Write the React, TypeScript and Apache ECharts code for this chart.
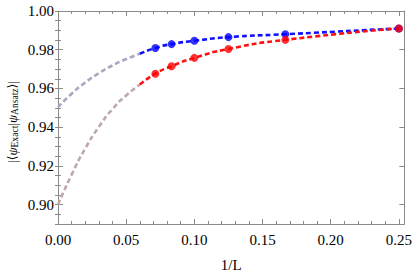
import React, { useEffect, useRef } from "react";
import * as echarts from "echarts";

const invL = [0.0714, 0.0833, 0.1, 0.125, 0.1667, 0.25];
const blueVals = [0.9809, 0.9829, 0.9846, 0.9865, 0.988, 0.991];
const redVals = [0.9676, 0.9715, 0.9758, 0.9804, 0.9851, 0.991];

const blueFitX = [0.06, 0.0714, 0.0833, 0.1, 0.125, 0.1667, 0.25];
const blueFitY = [0.9779, 0.9809, 0.9829, 0.9846, 0.9865, 0.988, 0.991];
const redFitX = [0.06, 0.0714, 0.0833, 0.1, 0.125, 0.1667, 0.25];
const redFitY = [0.962, 0.9676, 0.9715, 0.9758, 0.9804, 0.9851, 0.991];

const extX = [0, 0.01, 0.02, 0.03, 0.04, 0.05, 0.06];
const blueExtY = [0.9503, 0.9573, 0.9631, 0.9679, 0.9719, 0.9752, 0.9779];
const redExtY = [0.9, 0.9155, 0.929, 0.9402, 0.9494, 0.9564, 0.962];

const X_MIN = 0;
const X_MAX = 0.254;
const Y_MIN = 0.89;
const Y_MAX = 1.0;

const zip = (xs: number[], ys: number[]) => xs.map((x, i) => [x, ys[i]]);

const FONT = "Liberation Serif";
const BRACKET_FONT = "DejaVu Sans";
const labelParts: [string, string][] = [
  ["|", "m"],
  ["⟨", "b"],
  ["ψ", "i"],
  ["Exact", "s"],
  ["|", "m"],
  ["ψ", "i"],
  ["Ansatz", "s"],
  ["⟩", "b"],
  ["|", "m"],
];

export default function App() {
  const ref = useRef<HTMLDivElement>(null);
  useEffect(() => {
    if (!ref.current) return;
    const chart = echarts.init(ref.current, undefined, { renderer: "svg" });
    const frame = "#8a8a8a";
    const font = FONT;
    const k = 0.87;
    const baseX = {
      type: "value",
      min: X_MIN,
      max: X_MAX,
      splitNumber: 5,
      axisLine: { show: true, onZero: false, lineStyle: { color: frame, width: 1 } },
      axisTick: { show: true, inside: true, length: 5, lineStyle: { color: frame } },
      minorTick: { show: true, splitNumber: 5, length: 3, lineStyle: { color: frame } },
      splitLine: { show: false },
    };
    const majorY = {
      type: "value",
      min: Y_MIN,
      max: Y_MAX,
      splitNumber: 5,
      axisLine: { show: true, onZero: false, lineStyle: { color: frame, width: 1 } },
      axisTick: { show: true, inside: true, length: 5, lineStyle: { color: frame } },
      splitLine: { show: false },
    };
    const minorY = {
      type: "value",
      min: Y_MIN,
      max: Y_MAX,
      interval: 0.005,
      axisLine: { show: false },
      axisTick: { show: true, inside: true, length: 3, lineStyle: { color: frame } },
      axisLabel: { show: false },
      splitLine: { show: false },
    };
    const fmt2 = (step: number) => (v: number) => {
      const q = v / step;
      if (Math.abs(q - Math.round(q)) > 1e-6) return "";
      return v.toFixed(2);
    };
    const dashed = (color: string) => ({
      type: "line",
      smooth: 0.6,
      showSymbol: false,
      symbol: "none",
      lineStyle: { color, width: 2.6, type: [5, 3] },
      z: 2,
    });
    const lh = 18 * k;
    chart.setOption({
      animation: false,
      backgroundColor: "#ffffff",
      textStyle: { fontFamily: font },
      grid: { left: 58, right: 8, top: 11, bottom: 50, containLabel: false },
      xAxis: [
        {
          ...baseX,
          position: "bottom",
          name: "1/L",
          nameLocation: "middle",
          nameGap: 33,
          nameTextStyle: { fontFamily: font, fontSize: 15, color: "#000" },
          axisLabel: {
            show: true,
            margin: 8,
            fontFamily: font,
            fontSize: 15,
            color: "#000",
            formatter: fmt2(0.05),
          },
        },
        { ...baseX, position: "top", axisLabel: { show: false } },
      ],
      yAxis: [
        {
          ...majorY,
          position: "left",
          axisLabel: {
            show: true,
            margin: 4,
            fontFamily: font,
            fontSize: 15,
            color: "#000",
            formatter: fmt2(0.02),
          },
        },
        { ...majorY, position: "right", axisLabel: { show: false } },
        { ...minorY, position: "left" },
        { ...minorY, position: "right" },
      ],
      graphic: [
        {
          type: "text",
          x: 12,
          y: 122,
          rotation: Math.PI / 2,
          style: {
            text: labelParts.map(([t, s]) => `{${s}|${t}}`).join(""),
            align: "center",
            verticalAlign: "middle",
            rich: {
              m: { fontFamily: font, fontSize: 15 * k, lineHeight: lh, verticalAlign: "middle", fill: "#000" },
              b: { fontFamily: BRACKET_FONT, fontSize: 14 * k, lineHeight: lh, verticalAlign: "middle", fill: "#000" },
              i: { fontFamily: font, fontSize: 15 * k, fontStyle: "italic", lineHeight: lh, verticalAlign: "middle", fill: "#000" },
              s: { fontFamily: font, fontSize: 11 * k, lineHeight: lh, verticalAlign: "bottom", fill: "#000" },
            },
          },
        },
      ],
      series: [
        { ...dashed("#a8a8bf"), data: zip(extX, blueExtY) },
        { ...dashed("#bea8a8"), data: zip(extX, redExtY) },
        { ...dashed("#1010ff"), data: zip(blueFitX, blueFitY) },
        { ...dashed("#ff1010"), data: zip(redFitX, redFitY) },
        {
          type: "scatter",
          data: zip(invL, blueVals),
          symbol: "circle",
          symbolSize: 8,
          itemStyle: { color: "#0000ff" },
          z: 3,
        },
        {
          type: "scatter",
          data: zip(invL, redVals),
          symbol: "circle",
          symbolSize: 8,
          itemStyle: { color: "#ff0000" },
          z: 4,
        },
      ],
    });
    return () => chart.dispose();
  }, []);
  return (
    <div
      ref={ref}
      style={{ position: "fixed", left: 0, top: 0, width: 415, height: 277 }}
    />
  );
}
